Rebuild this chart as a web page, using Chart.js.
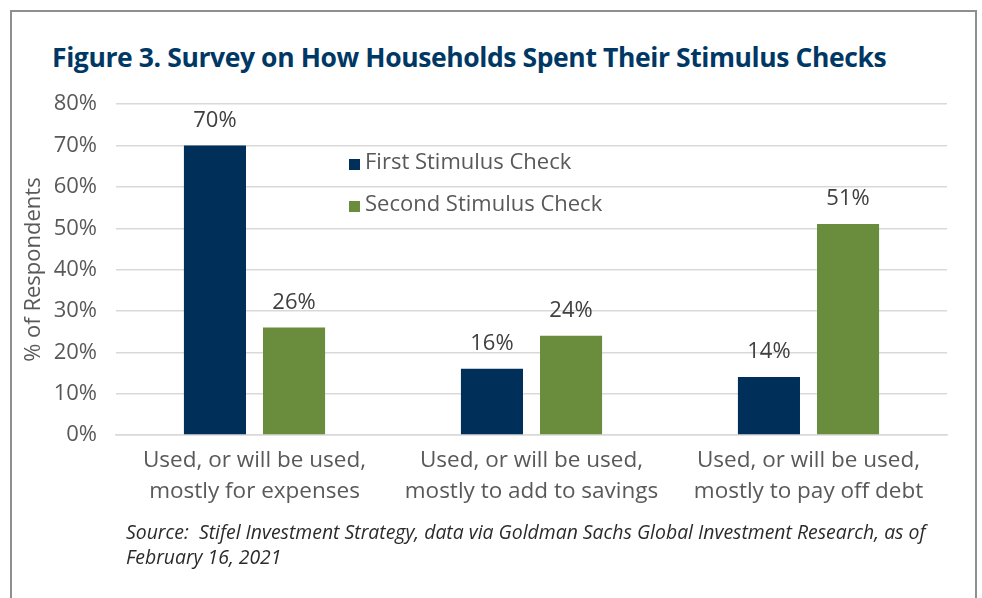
<!DOCTYPE html>
<html>
<head>
<meta charset="utf-8">
<script src="https://cdn.jsdelivr.net/npm/chart.js@4.4.1/dist/chart.umd.min.js"></script>
<style>
    body { margin: 0; background: #fff; width: 982px; height: 598px; overflow: hidden; position: relative; }
    #marco { position: absolute; left: 10px; top: 10px; width: 963px; height: 620px; border: 2px solid #8f8f8f; }
    #titulo { position: absolute; left: 52px; top: 39px; margin: 0; font-family: "Open Sans", sans-serif; font-weight: 700;
              font-size: 26.5px; color: #003865; white-space: nowrap; letter-spacing: -0.4px; }
    #lienzo { position: absolute; left: 0; top: 72px; }
    #fuente { position: absolute; left: 126px; top: 519px; font-family: "Liberation Sans Narrow", "Open Sans", sans-serif;
              font-style: italic; font-size: 19.4px; line-height: 25px; color: #2b2b2b; white-space: nowrap; }
</style>
</head>
<body>
<div id="marco"></div>
<h1 id="titulo">Figure 3. Survey on How Households Spent Their Stimulus Checks</h1>
<canvas id="lienzo" width="982" height="448"></canvas>
<div id="fuente">Source:&nbsp; Stifel Investment Strategy, data via Goldman Sachs Global Investment Research, as of<br>February 16, 2021</div>
<script>
// Datos
let categorias = [
    ["Used, or will be used,", "mostly for expenses"],
    ["Used, or will be used,", "mostly to add to savings"],
    ["Used, or will be used,", "mostly to pay off debt"]
];
let primerCheque = [70, 16, 14];
let segundoCheque = [26, 24, 51];
let nombresSeries = ["First Stimulus Check", "Second Stimulus Check"];
let coloresSeries = ["#00305a", "#6a8d3d"];

let fuenteBase = "'Open Sans', sans-serif";

// Etiquetas de valor encima de cada barra
let etiquetasValor = {
    id: "etiquetasValor",
    afterDatasetsDraw(chart) {
        let ctx = chart.ctx;
        ctx.save();
        ctx.font = "22px " + fuenteBase;
        ctx.fillStyle = "#404040";
        ctx.textAlign = "center";
        ctx.textBaseline = "middle";
        chart.data.datasets.forEach((ds, i) => {
            chart.getDatasetMeta(i).data.forEach((barra, j) => {
                ctx.fillText(ds.data[j] + "%", barra.x, barra.y - 25);
            });
        });
        ctx.restore();
    }
};

// Leyenda dentro del área del gráfico
let leyendaInterna = {
    id: "leyendaInterna",
    afterDraw(chart) {
        let ctx = chart.ctx;
        ctx.save();
        ctx.font = "22px " + fuenteBase;
        ctx.textBaseline = "middle";
        chart.data.datasets.forEach((ds, i) => {
            let y = 91 + i * 42;
            ctx.fillStyle = ds.backgroundColor;
            ctx.fillRect(349, y - 4, 11, 11);
            ctx.fillStyle = "#595959";
            ctx.fillText(ds.label, 365, y);
        });
        ctx.restore();
    }
};

document.addEventListener("DOMContentLoaded", function(event) {
    let ctx = document.getElementById("lienzo");

    let chartData = {
        labels: categorias,
        datasets: [{
                label: nombresSeries[0],
                data: primerCheque,
                backgroundColor: coloresSeries[0]
            },
            {
                label: nombresSeries[1],
                data: segundoCheque,
                backgroundColor: coloresSeries[1]
            }
        ]
    };

    let grafico = new Chart(ctx, {
        type: "bar",
        data: chartData,
        plugins: [etiquetasValor, leyendaInterna],
        options: {
            responsive: false,
            animation: false,
            layout: { padding: { left: 0, right: 35, top: 14, bottom: 0 } },
            datasets: { bar: { categoryPercentage: 0.571, barPercentage: 0.785 } },
            plugins: {
                legend: { display: false },
                tooltip: { enabled: false }
            },
            scales: {
                x: {
                    grid: { display: false },
                    border: { color: "#d9d9d9", width: 1.5 },
                    ticks: { color: "#595959", font: { family: fuenteBase, size: 22.5, lineHeight: 1.38 }, padding: 2, maxRotation: 0 },
                    afterFit(scale) { scale.height = 85; }
                },
                y: {
                    min: 0,
                    max: 80,
                    ticks: {
                        stepSize: 10,
                        color: "#595959",
                        padding: 19,
                        font: { family: fuenteBase, size: 22 },
                        callback: v => v + "%"
                    },
                    grid: { color: "#d9d9d9", lineWidth: 1.5, drawTicks: false },
                    border: { display: false },
                    title: {
                        display: true,
                        text: "% of Respondents",
                        color: "#595959",
                        font: { family: fuenteBase, size: 22 },
                        padding: { top: 21, bottom: 0 }
                    },
                    afterFit(scale) { scale.width = 116; }
                }
            }
        }
    });
});
</script>
</body>
</html>
